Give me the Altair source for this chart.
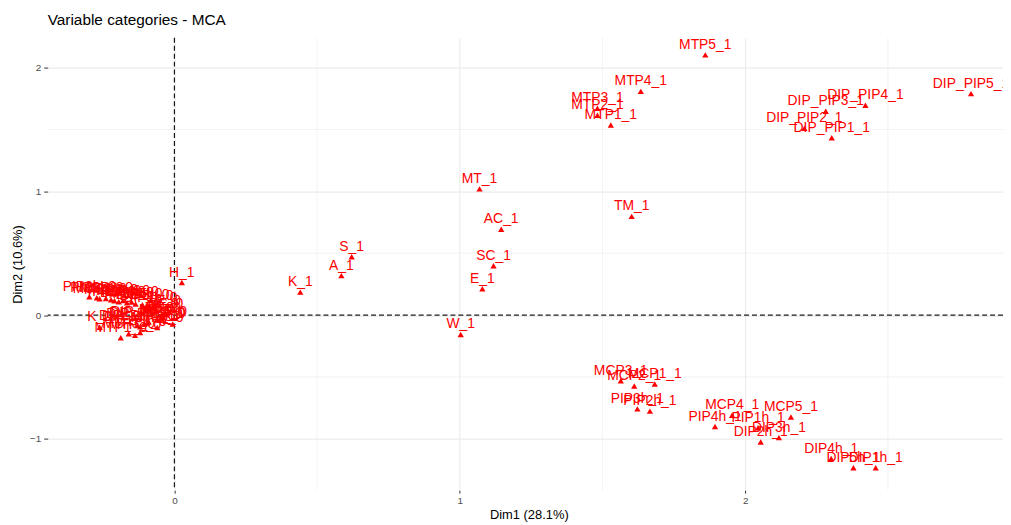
import altair as alt
import pandas as pd

# "_1" categories
labels_1 = ["MTP5_1", "MTP4_1", "MTP3_1", "MTP2_1", "MTP1_1",
            "DIP_PIP5_1", "DIP_PIP4_1", "DIP_PIP3_1", "DIP_PIP2_1", "DIP_PIP1_1",
            "MT_1", "AC_1", "TM_1", "S_1", "A_1", "K_1", "SC_1", "E_1", "W_1", "H_1",
            "MCP3_1", "MCP2_1", "MCP1_1", "PIP3h_1", "PIP2h_1", "MCP4_1", "PIP4h_1",
            "PIP1h_1", "MCP5_1", "DIP3h_1", "DIP2h_1", "DIP4h_1", "DIP5h_1", "DIP1h_1"]
x_1 = [1.860, 1.634, 1.482, 1.482, 1.529,
       2.791, 2.421, 2.282, 2.207, 2.303,
       1.069, 1.145, 1.602, 0.621, 0.585, 0.441, 1.118, 1.079, 1.003, 0.026,
       1.564, 1.611, 1.683, 1.622, 1.666, 1.954, 1.894,
       2.045, 2.160, 2.118, 2.054, 2.301, 2.379, 2.457]
y_1 = [2.103, 1.808, 1.672, 1.616, 1.536,
       1.790, 1.696, 1.648, 1.509, 1.434,
       1.020, 0.694, 0.798, 0.472, 0.319, 0.186, 0.399, 0.213, -0.156, 0.263,
       -0.531, -0.573, -0.557, -0.758, -0.776, -0.810, -0.900,
       -0.910, -0.824, -0.990, -1.026, -1.159, -1.233, -1.233]

# "_0" categories (dense cluster near the origin)
labels_0 = ["PIP3h_0", "PIP2h_0", "MCP3_0", "MCP2_0", "MCP1_0", "PIP1h_0", "PIP4h_0",
            "MCP4_0", "DIP2h_0", "DIP3h_0", "MCP5_0", "DIP4h_0", "DIP5h_0", "DIP1h_0",
            "H_0", "MT_0", "TM_0", "AC_0", "SC_0", "E_0", "W_0", "K_0", "A_0", "S_0",
            "MTP1_0", "MTP2_0", "MTP3_0", "MTP4_0", "MTP5_0",
            "DIP_PIP1_0", "DIP_PIP2_0", "DIP_PIP3_0", "DIP_PIP4_0", "DIP_PIP5_0"]
x_0 = [-0.298, -0.272, -0.262, -0.240, -0.222, -0.210, -0.195,
       -0.180, -0.166, -0.150, -0.136, -0.112, -0.098, -0.084,
       -0.006, -0.062, -0.040, -0.050, -0.030, -0.020, -0.036, -0.262, -0.046, -0.052,
       -0.188, -0.138, -0.160, -0.120, -0.060,
       -0.130, -0.120, -0.105, -0.095, -0.090]
y_0 = [0.148, 0.140, 0.132, 0.135, 0.124, 0.116, 0.108,
       0.118, 0.100, 0.106, 0.090, 0.084, 0.072, 0.060,
       -0.072, -0.040, -0.020, -0.030, 0.010, 0.030, 0.006, -0.098, -0.026, -0.042,
       -0.183, -0.164, -0.150, -0.140, -0.100,
       -0.085, -0.095, -0.075, -0.065, -0.055]

x_major = [0, 1, 2]
y_major = [-1, 0, 1, 2]
x_minor = [0.5, 1.5, 2.5]
y_minor = [-0.5, 0.5, 1.5]
zero_ref = [0]

x_domain = [-0.444, 2.903]
y_domain = [-1.415, 2.241]

FONT = "Liberation Sans"
RED = "#FF0000"
GRID = "#EBEBEB"

df = pd.DataFrame({"label": labels_0 + labels_1,
                   "Dim1": x_0 + x_1,
                   "Dim2": y_0 + y_1})

xscale = alt.Scale(domain=x_domain, nice=False, zero=False)
yscale = alt.Scale(domain=y_domain, nice=False, zero=False)

xaxis = alt.Axis(values=x_major, title="Dim1 (28.1%)", grid=True, gridColor=GRID,
                 gridWidth=1.1, domain=False, ticks=True, tickSize=3,
                 tickColor="#333333", labelPadding=2, labelFontSize=10,
                 labelColor="#4D4D4D", labelFont=FONT, titleFont=FONT,
                 titleFontSize=13, titleFontWeight="normal", titleColor="#000000",
                 titleX=485, titleY=25, titleBaseline="middle", titleAlign="center")
yaxis = alt.Axis(values=y_major, title="Dim2 (10.6%)", grid=True, gridColor=GRID,
                 gridWidth=1.1, domain=False, ticks=True, tickSize=4,
                 tickColor="#333333", labelPadding=3, labelFontSize=10,
                 labelColor="#4D4D4D", labelFont=FONT, titleFont=FONT,
                 titleFontSize=13, titleFontWeight="normal", titleColor="#000000",
                 titleX=-30, titleY=228, titleAngle=270, titleBaseline="middle",
                 titleAlign="center")

X = alt.X("Dim1:Q", scale=xscale, axis=xaxis)
Y = alt.Y("Dim2:Q", scale=yscale, axis=yaxis)

minor_v = alt.Chart(pd.DataFrame({"Dim1": x_minor})).mark_rule(
    color=GRID, strokeWidth=0.6).encode(x=X)
minor_h = alt.Chart(pd.DataFrame({"Dim2": y_minor})).mark_rule(
    color=GRID, strokeWidth=0.6).encode(y=Y)
zero_v = alt.Chart(pd.DataFrame({"Dim1": zero_ref})).mark_rule(
    color="#1a1a1a", strokeWidth=1.2, strokeDash=[5, 3]).encode(x=X)
zero_h = alt.Chart(pd.DataFrame({"Dim2": zero_ref})).mark_rule(
    color="#1a1a1a", strokeWidth=1.2, strokeDash=[5, 3]).encode(y=Y)

points = alt.Chart(df).mark_point(shape="triangle-up", filled=True, size=40,
                                  color=RED, opacity=1).encode(x=X, y=Y)
texts = alt.Chart(df).mark_text(dy=-10, fontSize=14, font=FONT, color=RED,
                                baseline="middle").encode(x=X, y=Y, text="label:N")

chart = alt.layer(minor_v, minor_h, zero_v, zero_h, points, texts).properties(
    width=963, height=456,
    title=alt.TitleParams("Variable categories - MCA", anchor="start", frame="group",
                          fontSize=15.5, fontWeight="normal", font=FONT,
                          color="#000000", offset=13, dy=16, baseline="alphabetic"),
    padding={"left": 40, "top": 28, "right": 0, "bottom": 31},
    autosize=alt.AutoSizeParams(type="none"),
).configure_view(stroke=None)

chart.save("out.html", embed_options={"renderer": "svg", "actions": False})
